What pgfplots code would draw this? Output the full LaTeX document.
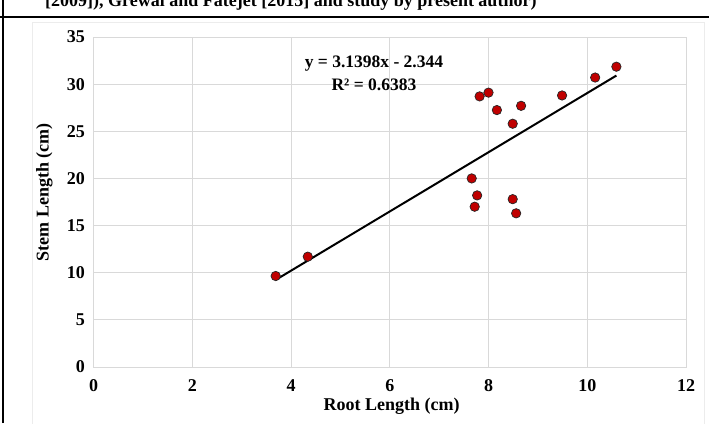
\documentclass[border=0pt]{standalone}
\usepackage{fontspec}
\setmainfont{Liberation Serif}
\usepackage{pgfplots}
\pgfplotsset{compat=1.18}
\definecolor{ptred}{HTML}{C00000}
\definecolor{gridgray}{HTML}{D9D9D9}
\begin{document}
\begin{tikzpicture}[x=1pt,y=1pt]
\useasboundingbox (0,0) rectangle (709,423);
% cut-off caption line of the page above the chart
\begin{scope}
\clip (0,408) rectangle (709,423);
\node[anchor=base west, inner sep=0pt, font=\bfseries\fontsize{18}{20}\selectfont] at (45,416.5) {[2009]), Grewal and Fatejet [2015] and study by present author)};
\end{scope}
\draw[line width=2pt] (0,406) -- (709,406);
\draw[line width=2.5pt] (3,0) -- (3,423);
\draw[gray!15, line width=0.8pt] (32,-5) rectangle (704,401);
\begin{axis}[
    at={(93.5pt,56pt)}, anchor=south west,
    scale only axis, width=592.5pt, height=330pt,
    xmin=0, xmax=12, ymin=0, ymax=35,
    xtick={0,2,...,12}, ytick={0,5,...,35},
    grid=major,
    major grid style={gridgray, line width=0.8pt},
    axis line style={gridgray, line width=0.8pt},
    tick style={draw=none},
    /pgf/number format/assume math mode=true,
    tick label style={font=\bfseries\fontsize{18}{20}\selectfont},
    xticklabel style={yshift=-9pt},
    yticklabel style={xshift=-5pt},
    label style={font=\bfseries\fontsize{18}{20}\selectfont},
    xlabel={Root Length (cm)},
    ylabel={Stem Length (cm)},
    xlabel style={at={(axis description cs:0.503,-0.12)}, anchor=center},
    ylabel style={at={(axis description cs:-0.083,0.53)}, anchor=center},
    ]
\addplot[only marks, mark=*, mark size=4.7pt, mark options={fill=ptred, draw=black!85, line width=0.7pt}]
coordinates {
(3.69,9.65) (4.34,11.7) (7.66,20.0) (7.72,17.0) (7.77,18.2)
(7.82,28.7) (8.00,29.1) (8.17,27.25) (8.49,25.8) (8.49,17.8)
(8.56,16.3) (8.66,27.7) (9.49,28.8) (10.16,30.7) (10.59,31.85)
};
\addplot[black, line width=2pt] coordinates {(3.69,9.24) (10.59,30.91)};
\node[font=\bfseries\fontsize{17.5}{19}\selectfont] at (axis cs:5.68,32.2) {y = 3.1398x - 2.344};
\node[font=\bfseries\fontsize{17.5}{19}\selectfont] at (axis cs:5.68,29.9) {R² = 0.6383};
\end{axis}
\end{tikzpicture}
\end{document}
